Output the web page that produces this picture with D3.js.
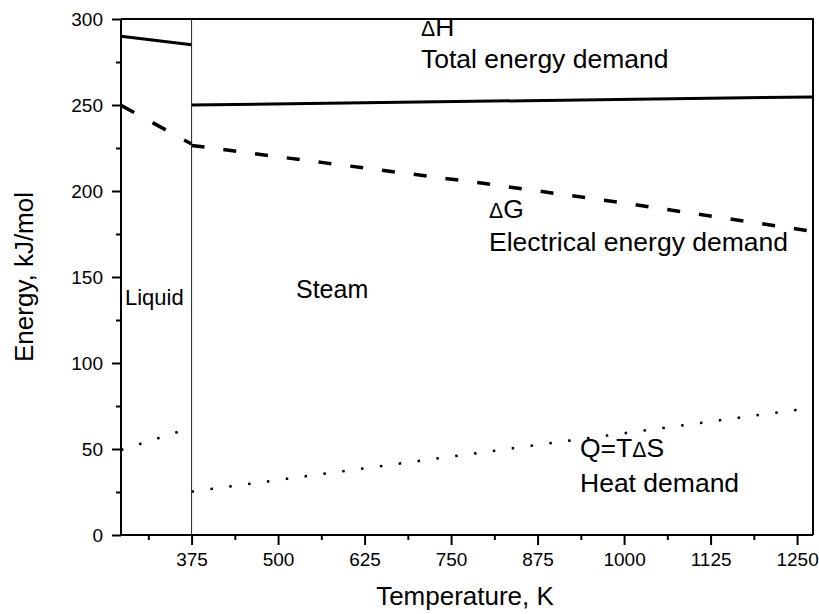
<!DOCTYPE html>
<html>
<head>
<meta charset="utf-8">
<script src="https://cdn.jsdelivr.net/npm/d3@7"></script>
<style>
  body { margin: 0; background: #fff; }
  svg { display: block; font-family: Arial, "Liberation Sans", sans-serif; }
</style>
</head>
<body>
<div id="chart"></div>
<script>
// Liquid water region (273 K up to boiling)
const tLiquid = [273, 375];
const dHLiquid = [290, 285];
const dGLiquid = [249.8, 227.3];
const qLiquid = [49.4, 62.5];

// Steam region
const tSteamH = [375, 1273];
const dHSteam = [250, 254.7];
const tSteamG = [375, 565, 796, 1000, 1273];
const dGSteam = [226.5, 216.5, 204.5, 193, 176.5];
const tSteamQ = [375, 1273];
const qSteam = [25.2, 74];

const xTicks = [375, 500, 625, 750, 875, 1000, 1125, 1250];
const xMinor = [312.5, 437.5, 562.5, 687.5, 812.5, 937.5, 1062.5, 1187.5];
const yTicks = [0, 50, 100, 150, 200, 250, 300];
const yMinor = [25, 75, 125, 175, 225, 275];

const width = 819, height = 614;
const margin = { top: 19, right: 6, bottom: 79, left: 121 };
const iw = width - margin.left - margin.right;
const ih = height - margin.top - margin.bottom;

const svg = d3.select('#chart').append('svg')
  .attr('width', width)
  .attr('height', height);

svg.append('defs').append('clipPath').attr('id', 'plot-clip')
  .append('rect')
  .attr('x', margin.left).attr('y', margin.top + 1)
  .attr('width', iw).attr('height', ih);

const g = svg.append('g').attr('transform', `translate(${margin.left},${margin.top})`);

const x = d3.scaleLinear().domain([273, 1273]).range([0, iw]);
const y = d3.scaleLinear().domain([0, 300]).range([ih, 0]);

const line = d3.line().x(d => x(d[0])).y(d => y(d[1]));
const zip = (a, b) => a.map((v, i) => [v, b[i]]);

// Series
const series = [
  { pts: zip(tLiquid, dHLiquid), dash: null, w: 3 },
  { pts: zip(tSteamH, dHSteam), dash: null, w: 3 },
  { pts: zip(tLiquid, dGLiquid), dash: '15,21', w: 3.5 },
  { pts: zip(tSteamG, dGSteam), dash: '13,19', w: 3.5 },
  { pts: zip(tLiquid, qLiquid), dash: '2.5,16.5', w: 2.5 },
  { pts: zip(tSteamQ, qSteam), dash: '2.5,16.5', w: 2.5 }
];

g.append('g').selectAll('path')
  .data(series)
  .join('path')
  .attr('d', d => line(d.pts))
  .attr('fill', 'none')
  .attr('stroke', '#000')
  .attr('stroke-width', d => d.w)
  .attr('stroke-dasharray', d => d.dash);

// Phase boundary
g.append('line')
  .attr('x1', x(375)).attr('x2', x(375))
  .attr('y1', 0).attr('y2', ih)
  .attr('stroke', '#222')
  .attr('stroke-width', 1);

// Annotations (clipped to the plot, like the ΔH label under the frame)
const notes = [
  { d: 'Δ', t: 'H', x: 421, y: 36, s: 26.5 },
  { t: 'Total energy demand', x: 421, y: 68, s: 26.5 },
  { d: 'Δ', t: 'G', x: 489, y: 218, s: 26.5 },
  { t: 'Electrical energy demand', x: 489, y: 251, s: 26.5 },
  { t: 'Liquid', x: 125, y: 305, s: 22 },
  { t: 'Steam', x: 296, y: 298, s: 25 },
  { pre: 'Q=T', d: 'Δ', t: 'S', x: 580, y: 457, s: 26.5 },
  { t: 'Heat demand', x: 580, y: 492, s: 26.5 }
];

const noteText = svg.append('g').attr('clip-path', 'url(#plot-clip)')
  .selectAll('text')
  .data(notes)
  .join('text')
  .attr('x', d => d.x)
  .attr('y', d => d.y)
  .attr('font-size', d => d.s)
  .attr('fill', '#000');
noteText.each(function (d) {
  const t = d3.select(this);
  if (d.pre) t.append('tspan').text(d.pre);
  if (d.d) t.append('tspan').attr('font-size', d.s * 0.8).text(d.d);
  t.append('tspan').text(d.t);
});

// Frame (top and right)
g.append('path')
  .attr('d', `M0,0H${iw}V${ih}`)
  .attr('fill', 'none')
  .attr('stroke', '#000')
  .attr('stroke-width', 2);

// Axes
const xAxis = g.append('g').attr('transform', `translate(0,${ih})`)
  .call(d3.axisBottom(x).tickValues(xTicks).tickSize(10).tickPadding(8).tickFormat(d3.format('d')));
g.append('g').attr('transform', `translate(0,${ih})`)
  .call(d3.axisBottom(x).tickValues(xMinor).tickSize(5).tickFormat(''))
  .call(a => a.select('.domain').remove());

const yAxis = g.append('g')
  .call(d3.axisLeft(y).tickValues(yTicks).tickSize(9).tickPadding(9));
g.append('g')
  .call(d3.axisLeft(y).tickValues(yMinor).tickSize(5).tickFormat(''))
  .call(a => a.select('.domain').remove());

g.selectAll('.tick line').attr('stroke-width', 2);
g.selectAll('.domain').attr('stroke-width', 2);
xAxis.select('.domain').attr('d', `M0,0H${iw}`);
yAxis.select('.domain').attr('d', `M0,0V${ih}`);
g.selectAll('.tick text').attr('font-size', 19).attr('font-family', 'Arial, "Liberation Sans", sans-serif').attr('fill', '#000');

// Axis titles
svg.append('text')
  .attr('x', 465).attr('y', 605)
  .attr('text-anchor', 'middle')
  .attr('font-size', 26)
  .text('Temperature, K');

svg.append('text')
  .attr('transform', `translate(33,${margin.top + ih / 2}) rotate(-90)`)
  .attr('text-anchor', 'middle')
  .attr('font-size', 26)
  .text('Energy, kJ/mol');
</script>
</body>
</html>
